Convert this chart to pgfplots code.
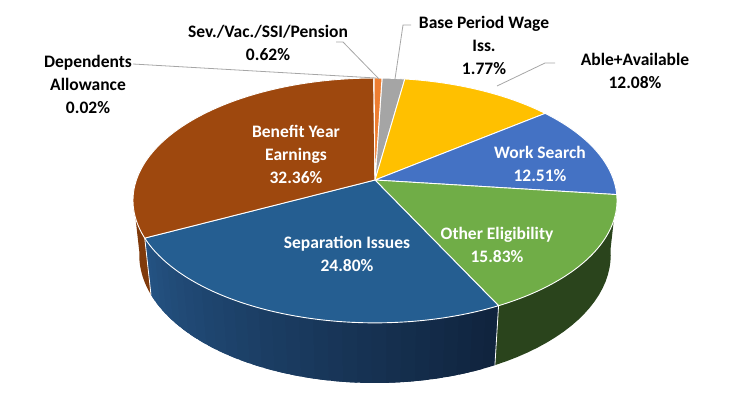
\documentclass[border=0pt]{standalone}
\usepackage{pgfplots}
\pgfplotsset{compat=1.18}
\usepackage{pgfplotstable}
\usepackage{fontspec}
\setmainfont{Carlito}
\definecolor{cBase}{HTML}{A5A5A5}
\definecolor{cAble}{HTML}{FFC000}
\definecolor{cWork}{HTML}{4472C4}
\definecolor{cOther}{HTML}{70AD47}
\definecolor{cSep}{HTML}{255E91}
\definecolor{cBen}{HTML}{9E480E}
\definecolor{cDep}{HTML}{636363}
\definecolor{cSev}{HTML}{ED7D31}
\definecolor{sepL}{RGB}{36,82,130}
\definecolor{sepD}{RGB}{16,36,62}
\definecolor{othC}{RGB}{42,68,28}
\definecolor{benC}{RGB}{128,58,11}
\definecolor{leader}{RGB}{166,166,166}

\pgfplotstableread{
cat pct
Base 1.77
Able 12.08
Work 12.51
Other 15.83
Sep 24.80
Benefit 32.36
Dep 0.02
Sev 0.62
}\piedata

\newcommand\topslice[3]{%
 \addplot[fill=#1,draw=white,line width=0.9pt,line join=round,domain=#2:#3,samples=90,variable=\t]
 ({px(\t,0)},{py(\t,0)}) -- (axis cs:375,180) -- cycle;}

\newcommand\wallstrip[3]{%
 \addplot[fill=#3,draw=none,domain=0:2.05,samples=42,variable=\t]
 ({px((#1)+((#2)-(#1))*ifthenelse(\t<1.025,\t,2.05-\t),\t>1.025)},
  {py((#1)+((#2)-(#1))*ifthenelse(\t<1.025,\t,2.05-\t),\t>1.025)}) -- cycle;}

\begin{document}
\begin{tikzpicture}[
  lab/.style={font=\bfseries\fontsize{17.5}{23}\selectfont,align=center,inner sep=0pt,text=black},
  labw/.style={lab,text=white}]
\pgfplotstablegetelem{0}{pct}\of\piedata \pgfmathsetmacro\eA{3.6*\pgfplotsretval}
\pgfplotstablegetelem{1}{pct}\of\piedata \pgfmathsetmacro\eB{\eA+3.6*\pgfplotsretval}
\pgfplotstablegetelem{2}{pct}\of\piedata \pgfmathsetmacro\eC{\eB+3.6*\pgfplotsretval}
\pgfplotstablegetelem{3}{pct}\of\piedata \pgfmathsetmacro\eD{\eC+3.6*\pgfplotsretval}
\pgfplotstablegetelem{4}{pct}\of\piedata \pgfmathsetmacro\eE{\eD+3.6*\pgfplotsretval}
\pgfplotstablegetelem{5}{pct}\of\piedata \pgfmathsetmacro\eF{\eE+3.6*\pgfplotsretval}
\pgfplotstablegetelem{6}{pct}\of\piedata \pgfmathsetmacro\eG{\eF+3.6*\pgfplotsretval}
\pgfplotstablegetelem{7}{pct}\of\piedata \pgfmathsetmacro\eH{\eG+3.6*\pgfplotsretval}
\begin{axis}[width=750pt,height=397pt,scale only axis,
  xmin=0,xmax=750,ymin=0,ymax=397,y dir=reverse,hide axis,clip=false,
  declare function={
    px(\t,\h)=375+238.6*sin(\t+2)/(1+0.167*cos(\t+2)+0.0257*\h);
    py(\t,\h)=180+(55.3*\h-119*cos(\t+2))/(1+0.167*cos(\t+2)+0.0257*\h);
  }]
\path (rel axis cs:0,0) rectangle (rel axis cs:1,1);
% side walls
\wallstrip{\eC}{\eD}{othC}
\pgfplotsinvokeforeach{0,...,29}{%
  \wallstrip{\eD+(\eE-\eD)*#1/30}{min(\eD+(\eE-\eD)*(#1+1.8)/30,\eE)}{sepL!\the\numexpr#1*100/29\relax!sepD}}
\wallstrip{\eE}{260}{benC}
\addplot[white,line width=0.8pt,domain=0:1,samples=2,variable=\t] ({px(\eD,\t)},{py(\eD,\t)});
\addplot[white,line width=0.8pt,domain=0:1,samples=2,variable=\t] ({px(\eE,\t)},{py(\eE,\t)});
% top faces
\topslice{cBase}{0}{\eA}
\topslice{cAble}{\eA}{\eB}
\topslice{cWork}{\eB}{\eC}
\topslice{cOther}{\eC}{\eD}
\topslice{cSep}{\eD}{\eE}
\topslice{cBen}{\eE}{\eF}
\topslice{cDep}{\eF}{\eG}
\topslice{cSev}{\eG}{\eH}
% leader lines
\addplot[leader,line width=0.8pt] coordinates {(133,64) (376,78)};
\addplot[leader,line width=0.8pt] coordinates {(336,42) (343,42) (379,79)};
\addplot[leader,line width=0.8pt] coordinates {(411,25) (403,25) (395,79)};
\addplot[leader,line width=0.8pt] coordinates {(555,63) (545,63) (497,86)};
% labels
\node[lab] at (axis cs:88,84) {Dependents\\Allowance\\0.02\%};
\node[lab] at (axis cs:268,43) {Sev./Vac./SSI/Pension\\0.62\%};
\node[lab] at (axis cs:484,45) {Base Period Wage\\Iss.\\1.77\%};
\node[lab] at (axis cs:635,71) {Able+Available\\12.08\%};
\node[labw] at (axis cs:296,154) {Benefit Year\\Earnings\\32.36\%};
\node[labw] at (axis cs:540,164) {Work Search\\12.51\%};
\node[labw] at (axis cs:497,245) {Other Eligibility\\15.83\%};
\node[labw] at (axis cs:347,254) {Separation Issues\\24.80\%};
\end{axis}
\end{tikzpicture}
\end{document}
